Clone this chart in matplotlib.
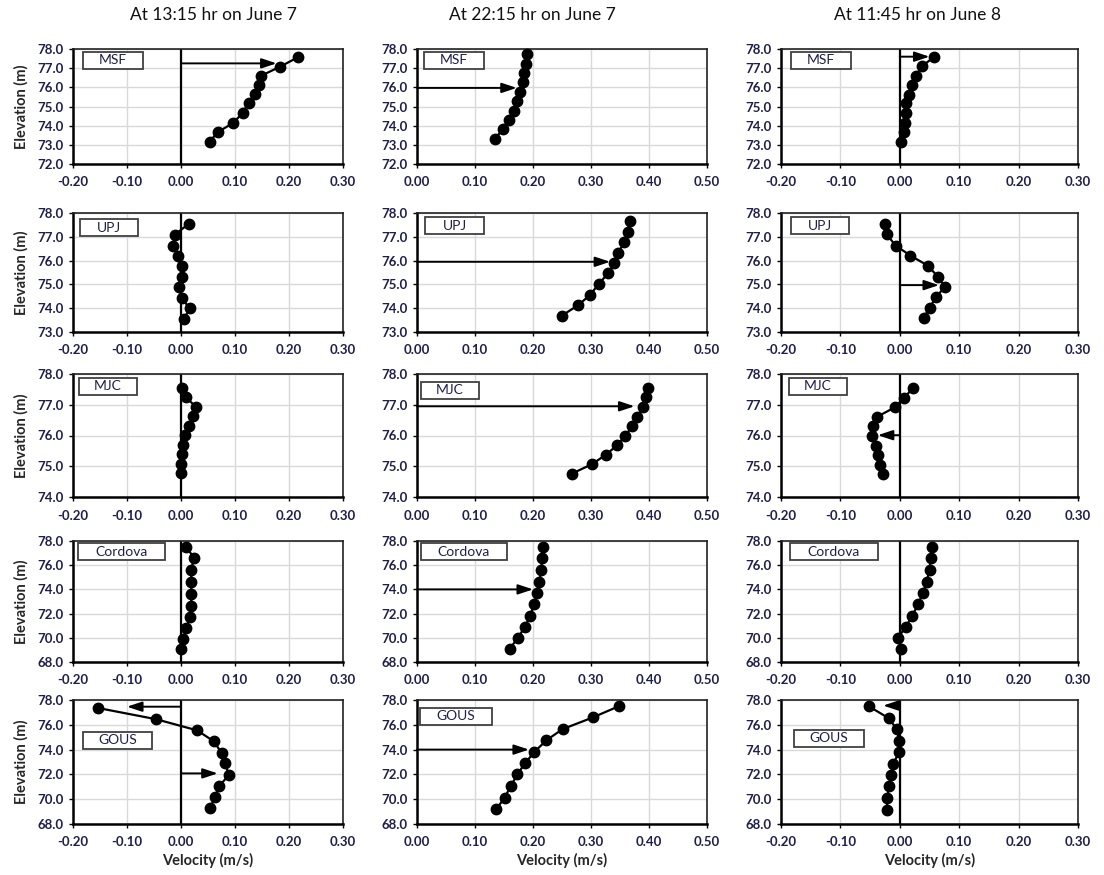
import matplotlib
matplotlib.use("Agg")
import matplotlib.pyplot as plt
from matplotlib.patches import Rectangle
import numpy as np

plt.rcParams['font.family'] = ['Lato', 'DejaVu Sans']

# ---------------- data ----------------
times = ["At 13:15 hr on June 7", "At 22:15 hr on June 7", "At 11:45 hr on June 8"]
sites = ["MSF", "UPJ", "MJC", "Cordova", "GOUS"]

# MSF
msf_t1_elev = [77.56, 77.07, 76.60, 76.11, 75.64, 75.19, 74.66, 74.15, 73.66, 73.17]
msf_t1_vel = [0.216, 0.183, 0.148, 0.145, 0.137, 0.125, 0.114, 0.097, 0.068, 0.053]
msf_t2_elev = [77.74, 77.24, 76.77, 76.27, 75.76, 75.30, 74.79, 74.30, 73.82, 73.33]
msf_t2_vel = [0.190, 0.188, 0.184, 0.182, 0.177, 0.173, 0.167, 0.158, 0.149, 0.134]
msf_t3_elev = [77.57, 77.09, 76.60, 76.10, 75.62, 75.16, 74.67, 74.16, 73.69, 73.17]
msf_t3_vel = [0.057, 0.037, 0.027, 0.020, 0.015, 0.011, 0.010, 0.009, 0.007, 0.002]

# UPJ
upj_t1_elev = [77.54, 77.08, 76.63, 76.21, 75.77, 75.32, 74.87, 74.44, 73.99, 73.56]
upj_t1_vel = [0.014, -0.012, -0.014, -0.006, 0.002, 0.001, -0.003, 0.001, 0.016, 0.006]
upj_t2_elev = [77.66, 77.19, 76.77, 76.32, 75.88, 75.46, 75.03, 74.55, 74.13, 73.69]
upj_t2_vel = [0.367, 0.363, 0.357, 0.347, 0.340, 0.329, 0.314, 0.298, 0.278, 0.250]
upj_t3_elev = [77.55, 77.10, 76.63, 76.21, 75.79, 75.33, 74.90, 74.47, 74.01, 73.58]
upj_t3_vel = [-0.025, -0.022, -0.007, 0.018, 0.047, 0.064, 0.076, 0.061, 0.050, 0.040]

# MJC
mjc_t1_elev = [77.56, 77.25, 76.94, 76.63, 76.30, 76.01, 75.70, 75.39, 75.07, 74.77]
mjc_t1_vel = [0.002, 0.009, 0.027, 0.023, 0.014, 0.007, 0.003, 0.001, 0.000, 0.000]
mjc_t2_elev = [77.54, 77.24, 76.93, 76.60, 76.30, 75.99, 75.68, 75.38, 75.07, 74.76]
mjc_t2_vel = [0.398, 0.394, 0.389, 0.380, 0.371, 0.359, 0.345, 0.326, 0.302, 0.267]
mjc_t3_elev = [77.55, 77.23, 76.92, 76.61, 76.31, 75.99, 75.67, 75.37, 75.04, 74.74]
mjc_t3_vel = [0.023, 0.007, -0.008, -0.038, -0.045, -0.047, -0.040, -0.037, -0.033, -0.029]

# Cordova
cor_t1_elev = [77.5, 76.6, 75.6, 74.6, 73.6, 72.6, 71.7, 70.8, 69.9, 69.1]
cor_t1_vel = [0.010, 0.024, 0.019, 0.019, 0.019, 0.019, 0.016, 0.010, 0.004, 0.000]
cor_t2_elev = [77.5, 76.6, 75.6, 74.6, 73.7, 72.8, 71.8, 70.9, 70.0, 69.1]
cor_t2_vel = [0.217, 0.216, 0.214, 0.211, 0.207, 0.202, 0.195, 0.186, 0.174, 0.160]
cor_t3_elev = [77.5, 76.6, 75.6, 74.6, 73.7, 72.8, 71.8, 70.9, 70.0, 69.1]
cor_t3_vel = [0.054, 0.052, 0.050, 0.045, 0.039, 0.031, 0.021, 0.010, -0.003, 0.002]

# GOUS
gous_t1_elev = [77.35, 76.45, 75.55, 74.66, 73.73, 72.89, 71.97, 71.07, 70.17, 69.30]
gous_t1_vel = [-0.153, -0.046, 0.030, 0.061, 0.075, 0.081, 0.089, 0.071, 0.063, 0.054]
gous_t2_elev = [77.52, 76.59, 75.65, 74.75, 73.79, 72.88, 72.00, 71.07, 70.13, 69.20]
gous_t2_vel = [0.349, 0.303, 0.251, 0.223, 0.202, 0.186, 0.173, 0.162, 0.151, 0.137]
gous_t3_elev = [77.49, 76.54, 75.65, 74.70, 73.81, 72.86, 71.95, 71.05, 70.11, 69.16]
gous_t3_vel = [-0.052, -0.019, -0.005, -0.001, -0.001, -0.011, -0.015, -0.018, -0.021, -0.022]

# depth-averaged velocity arrows: (elevation, velocity)
msf_arrows = [[(77.25, 0.177)], [(75.97, 0.172)], [(77.60, 0.050)]]
upj_arrows = [[], [(75.95, 0.333)], [(74.97, 0.066)]]
mjc_arrows = [[], [(76.95, 0.375)], [(76.01, -0.037)]]
cor_arrows = [[], [(74.00, 0.200)], []]
gous_arrows = [[(77.46, -0.100), (72.08, 0.068)], [(74.00, 0.193)], [(77.55, -0.028)]]

profiles = [
    [(msf_t1_vel, msf_t1_elev), (msf_t2_vel, msf_t2_elev), (msf_t3_vel, msf_t3_elev)],
    [(upj_t1_vel, upj_t1_elev), (upj_t2_vel, upj_t2_elev), (upj_t3_vel, upj_t3_elev)],
    [(mjc_t1_vel, mjc_t1_elev), (mjc_t2_vel, mjc_t2_elev), (mjc_t3_vel, mjc_t3_elev)],
    [(cor_t1_vel, cor_t1_elev), (cor_t2_vel, cor_t2_elev), (cor_t3_vel, cor_t3_elev)],
    [(gous_t1_vel, gous_t1_elev), (gous_t2_vel, gous_t2_elev), (gous_t3_vel, gous_t3_elev)],
]
arrows = [msf_arrows, upj_arrows, mjc_arrows, cor_arrows, gous_arrows]

y_ranges = [(72, 78, 1), (73, 78, 1), (74, 78, 1), (68, 78, 2), (68, 78, 2)]
x_ranges = [(-0.2, 0.3), (0.0, 0.5), (-0.2, 0.3)]

# ---------------- layout (pixels) ----------------
W, H = 1104, 875
col_px = [(73, 343), (417, 707), (781, 1078)]
row_px = [(49, 164), (213, 332), (374, 497), (541, 662), (700, 824)]
title_x = [213, 532, 917]

# label box: (left offset px, top offset px, width px)
box_layout = [
    [(10, 3, 60), (7, 3, 60), (10, 3, 60)],
    [(7, 6, 58), (8, 4, 59), (10, 4, 58)],
    [(6, 4, 58), (4, 8, 58), (8, 4, 58)],
    [(5, 2, 87), (4, 2, 86), (9, 2, 88)],
    [(10, 32, 69), (3, 8, 72), (13, 30, 70)],
]
box_h = 17

navy = "#1f1f4d"
fig = plt.figure(figsize=(W / 100, H / 100), dpi=100)

for r in range(5):
    for c in range(3):
        x0, x1 = col_px[c]
        y0, y1 = row_px[r]
        ax = fig.add_axes([x0 / W, 1 - y1 / H, (x1 - x0) / W, (y1 - y0) / H])
        lo, hi, step = y_ranges[r]
        xl, xh = x_ranges[c]
        ax.set_xlim(xl, xh)
        ax.set_ylim(lo, hi)
        ax.set_xticks(np.round(np.arange(xl, xh + 1e-9, 0.1), 2))
        ax.set_yticks(np.arange(lo, hi + 1e-9, step))
        ax.xaxis.set_major_formatter(matplotlib.ticker.FormatStrFormatter("%.2f"))
        ax.yaxis.set_major_formatter(matplotlib.ticker.FormatStrFormatter("%.1f"))
        ax.grid(True, color="#d9d9d9", lw=1.0, zorder=0)
        ax.set_axisbelow(True)
        for s in ax.spines.values():
            s.set_color("#222222")
            s.set_linewidth(1.2)
        ax.spines["left"].set_linewidth(1.8)
        ax.spines["bottom"].set_linewidth(1.8)
        ax.spines["left"].set_color("black")
        ax.spines["bottom"].set_color("black")
        ax.tick_params(length=3, width=1, colors="black", labelcolor=navy,
                       labelsize=9.5)
        ax.tick_params(axis="x", pad=6)
        ax.tick_params(axis="y", pad=4)
        for lab in ax.get_xticklabels() + ax.get_yticklabels():
            lab.set_fontweight("bold")
        if xl < 0:
            ax.axvline(0, color="black", lw=1.6, zorder=2)

        vel, elev = profiles[r][c]
        ax.plot(vel, elev, color="black", lw=1.6, marker="o", ms=7.5,
                mfc="black", mec="black", zorder=4, clip_on=False)

        for (ae, av) in arrows[r][c]:
            ax.annotate("", xy=(av, ae), xytext=(0, ae),
                        arrowprops=dict(arrowstyle="-|>,head_length=0.9,head_width=0.3",
                                        color="black", lw=1.4, shrinkA=0, shrinkB=0),
                        zorder=3)

        # station label box
        bx, by, bw = box_layout[r][c]
        aw, ah = x1 - x0, y1 - y0
        rx = bx / aw
        ry = 1 - (by + box_h) / ah
        ax.add_patch(Rectangle((rx, ry), bw / aw, box_h / ah, transform=ax.transAxes,
                               facecolor="white", edgecolor="#404040", lw=1.3, zorder=5))
        ax.text(rx + bw / aw / 2, ry + box_h / ah / 2, sites[r], transform=ax.transAxes,
                ha="center", va="center", fontsize=10, color=navy, zorder=6)

        if c == 0:
            ax.set_ylabel("Elevation (m)", fontsize=10.5, fontweight="bold",
                          color="#262626", labelpad=6)
        if r == 4:
            ax.set_xlabel("Velocity (m/s)", fontsize=10.5, fontweight="bold",
                          color="#262626", labelpad=3)

for c in range(3):
    fig.text(title_x[c] / W, 1 - 15 / H, times[c], ha="center", va="center",
             fontsize=12.5, color="#111111")

fig.savefig("out.png", dpi=100)
